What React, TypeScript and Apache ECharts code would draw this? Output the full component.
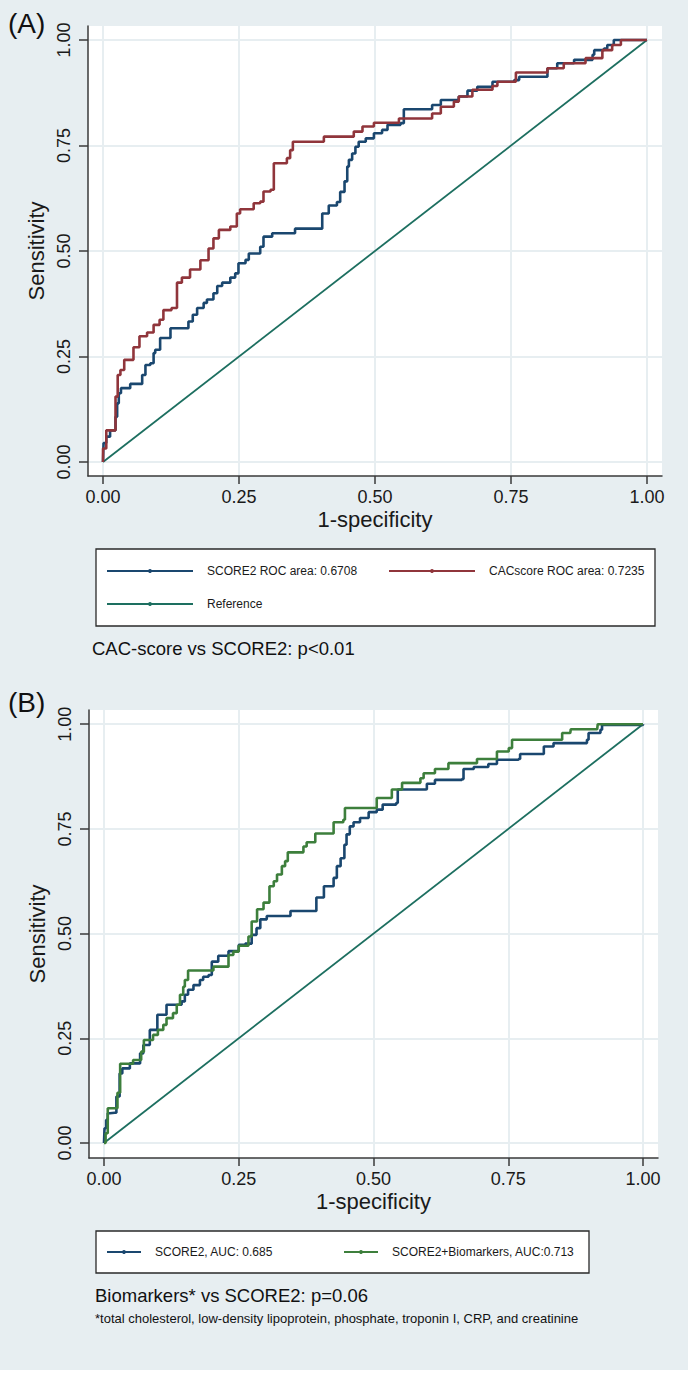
import React, { useEffect, useRef } from "react";
import * as echarts from "echarts";

// ---------- data ----------
const tickValues = [0, 0.25, 0.5, 0.75, 1];

// Panel A: SCORE2 ROC curve (1-specificity, sensitivity)
const scoreA: number[][] = [
  [0, 0], [0.001, 0.045], [0.006, 0.06], [0.013, 0.075], [0.018, 0.075], [0.023, 0.107], [0.026, 0.139],
  [0.029, 0.163], [0.033, 0.175], [0.047, 0.175], [0.05, 0.185], [0.066, 0.185], [0.072, 0.206], [0.078, 0.23],
  [0.087, 0.234], [0.093, 0.258], [0.096, 0.266], [0.105, 0.294], [0.117, 0.294], [0.124, 0.317], [0.154, 0.317],
  [0.157, 0.333], [0.165, 0.349], [0.173, 0.365], [0.185, 0.377], [0.191, 0.385], [0.203, 0.4], [0.21, 0.417],
  [0.219, 0.425], [0.234, 0.437], [0.243, 0.447], [0.249, 0.471], [0.262, 0.479], [0.268, 0.494], [0.283, 0.494],
  [0.289, 0.51], [0.295, 0.534], [0.311, 0.542], [0.344, 0.542], [0.353, 0.553], [0.403, 0.553], [0.403, 0.589],
  [0.415, 0.608], [0.43, 0.616], [0.436, 0.64], [0.444, 0.665], [0.449, 0.7], [0.452, 0.716], [0.458, 0.731],
  [0.464, 0.747], [0.47, 0.759], [0.483, 0.767], [0.498, 0.779], [0.513, 0.787], [0.523, 0.799], [0.547, 0.803],
  [0.553, 0.836], [0.602, 0.836], [0.605, 0.846], [0.621, 0.858], [0.645, 0.858], [0.654, 0.866], [0.67, 0.88],
  [0.688, 0.889], [0.716, 0.901], [0.756, 0.905], [0.765, 0.913], [0.811, 0.913], [0.817, 0.933], [0.835, 0.945],
  [0.866, 0.953], [0.9, 0.965], [0.903, 0.976], [0.921, 0.98], [0.927, 0.988], [0.939, 1], [1, 1],
];

// Panel A: CAC score ROC curve
const cacA: number[][] = [
  [0, 0], [0, 0.032], [0.006, 0.045], [0.006, 0.075], [0.015, 0.075], [0.023, 0.155], [0.027, 0.206],
  [0.032, 0.218], [0.039, 0.242], [0.05, 0.242], [0.056, 0.272], [0.067, 0.298], [0.081, 0.307], [0.093, 0.325],
  [0.104, 0.337], [0.111, 0.36], [0.126, 0.365], [0.136, 0.425], [0.145, 0.437], [0.16, 0.456], [0.179, 0.478],
  [0.194, 0.506], [0.203, 0.53], [0.213, 0.55], [0.234, 0.558], [0.246, 0.589], [0.252, 0.599], [0.271, 0.599],
  [0.277, 0.613], [0.289, 0.617], [0.295, 0.641], [0.308, 0.645], [0.314, 0.664], [0.314, 0.708], [0.338, 0.72],
  [0.344, 0.739], [0.349, 0.759], [0.406, 0.759], [0.406, 0.771], [0.461, 0.771], [0.461, 0.783], [0.477, 0.783],
  [0.477, 0.795], [0.498, 0.795], [0.498, 0.804], [0.544, 0.804], [0.544, 0.814], [0.602, 0.814], [0.605, 0.826],
  [0.621, 0.826], [0.621, 0.842], [0.645, 0.842], [0.645, 0.854], [0.654, 0.854], [0.654, 0.866], [0.67, 0.866],
  [0.679, 0.878], [0.679, 0.882], [0.716, 0.882], [0.716, 0.891], [0.725, 0.901], [0.756, 0.901], [0.759, 0.923],
  [0.817, 0.923], [0.817, 0.933], [0.847, 0.933], [0.847, 0.945], [0.887, 0.945], [0.887, 0.957], [0.915, 0.957],
  [0.918, 0.976], [0.936, 0.976], [0.936, 0.988], [0.952, 0.988], [0.952, 1], [1, 1],
];

// Panel B: SCORE2
const scoreB: number[][] = [
  [0, 0], [0.001, 0.035], [0.004, 0.055], [0.007, 0.071], [0.011, 0.072], [0.02, 0.072], [0.023, 0.111],
  [0.029, 0.166], [0.034, 0.178], [0.045, 0.178], [0.048, 0.19], [0.06, 0.19], [0.067, 0.214], [0.073, 0.234],
  [0.079, 0.234], [0.085, 0.27], [0.097, 0.27], [0.099, 0.306], [0.114, 0.306], [0.116, 0.33], [0.132, 0.33],
  [0.144, 0.338], [0.15, 0.354], [0.156, 0.366], [0.166, 0.377], [0.178, 0.389], [0.184, 0.397], [0.194, 0.401],
  [0.2, 0.433], [0.208, 0.433], [0.212, 0.447], [0.228, 0.447], [0.231, 0.458], [0.25, 0.473], [0.262, 0.476],
  [0.274, 0.497], [0.283, 0.513], [0.29, 0.534], [0.302, 0.542], [0.333, 0.542], [0.346, 0.554], [0.392, 0.554],
  [0.394, 0.586], [0.408, 0.613], [0.423, 0.613], [0.426, 0.633], [0.432, 0.661], [0.439, 0.68], [0.446, 0.712],
  [0.45, 0.737], [0.456, 0.756], [0.463, 0.766], [0.475, 0.776], [0.491, 0.79], [0.506, 0.796], [0.517, 0.808],
  [0.542, 0.812], [0.545, 0.844], [0.596, 0.845], [0.599, 0.858], [0.614, 0.867], [0.664, 0.869], [0.667, 0.893],
  [0.686, 0.898], [0.713, 0.905], [0.729, 0.915], [0.769, 0.917], [0.772, 0.929], [0.809, 0.929], [0.816, 0.947],
  [0.834, 0.955], [0.896, 0.963], [0.899, 0.979], [0.921, 0.987], [0.924, 0.998], [1, 1],
];

// Panel B: SCORE2 + Biomarkers
const bioB: number[][] = [
  [0, 0], [0.003, 0.023], [0.007, 0.063], [0.007, 0.083], [0.02, 0.083], [0.025, 0.12], [0.03, 0.189],
  [0.051, 0.189], [0.054, 0.198], [0.063, 0.198], [0.069, 0.218], [0.074, 0.246], [0.085, 0.246], [0.091, 0.258],
  [0.1, 0.27], [0.11, 0.282], [0.116, 0.298], [0.128, 0.31], [0.135, 0.33], [0.141, 0.354], [0.147, 0.373],
  [0.15, 0.389], [0.156, 0.412], [0.197, 0.412], [0.203, 0.421], [0.222, 0.421], [0.231, 0.449], [0.24, 0.457],
  [0.25, 0.471], [0.265, 0.471], [0.268, 0.493], [0.274, 0.529], [0.284, 0.558], [0.296, 0.574], [0.307, 0.613],
  [0.315, 0.625], [0.321, 0.641], [0.33, 0.661], [0.336, 0.673], [0.341, 0.694], [0.367, 0.694], [0.37, 0.708],
  [0.376, 0.718], [0.389, 0.718], [0.392, 0.739], [0.426, 0.739], [0.426, 0.766], [0.444, 0.772], [0.447, 0.8],
  [0.506, 0.8], [0.506, 0.824], [0.531, 0.824], [0.534, 0.844], [0.553, 0.848], [0.553, 0.86], [0.584, 0.86],
  [0.587, 0.871], [0.593, 0.883], [0.611, 0.883], [0.614, 0.893], [0.639, 0.895], [0.639, 0.907], [0.692, 0.907],
  [0.692, 0.917], [0.726, 0.917], [0.729, 0.935], [0.751, 0.943], [0.757, 0.963], [0.85, 0.963], [0.85, 0.979],
  [0.865, 0.979], [0.866, 0.988], [0.915, 0.988], [0.916, 1], [1, 1],
];

const referenceLine: number[][] = [[0, 0], [1, 1]];

const namesA = ["SCORE2 ROC area: 0.6708", "CACscore ROC area: 0.7235", "Reference"];
const namesB = ["SCORE2, AUC: 0.685", "SCORE2+Biomarkers, AUC:0.713"];

const FONT = "'Liberation Sans', Arial, Helvetica, sans-serif";
const BG = "#e7eef1";
const GRIDC = "#e7eef1";
const AXC = "#3a3a3a";
const NAVY = "#1a476f";
const MAROON = "#90353b";
const TEAL = "#1d6f60";
const GREEN = "#3d7f3c";

function xAxisFor(gridIndex: number, min: number, max: number) {
  return {
    type: "value",
    gridIndex,
    min,
    max,
    name: "1-specificity",
    nameLocation: "middle",
    nameGap: 32,
    nameTextStyle: { fontSize: 22, color: "#1a1a1a", fontFamily: FONT },
    axisLine: { show: true, onZero: false, lineStyle: { color: AXC, width: 1.5 } },
    axisTick: { show: true, length: 8, customValues: tickValues, lineStyle: { color: AXC, width: 1.5 } },
    axisLabel: {
      customValues: tickValues,
      formatter: (v: number) => v.toFixed(2),
      fontSize: 18,
      color: "#1a1a1a",
      fontFamily: FONT,
      margin: 12,
    },
    splitLine: { show: true, lineStyle: { color: GRIDC, width: 2 } },
  };
}

function yAxisFor(gridIndex: number, min: number, max: number) {
  return {
    type: "value",
    gridIndex,
    min,
    max,
    name: "Sensitivity",
    nameLocation: "middle",
    nameRotate: 90,
    nameGap: 35,
    nameTextStyle: { fontSize: 22, color: "#1a1a1a", fontFamily: FONT },
    axisLine: { show: true, onZero: false, lineStyle: { color: AXC, width: 1.5 } },
    axisTick: { show: true, length: 9, customValues: tickValues, lineStyle: { color: AXC, width: 1.5 } },
    axisLabel: {
      customValues: tickValues,
      formatter: (v: number) => v.toFixed(2),
      rotate: 90,
      fontSize: 18,
      color: "#1a1a1a",
      fontFamily: FONT,
      margin: 15,
    },
    splitLine: { show: true, lineStyle: { color: GRIDC, width: 2 } },
  };
}

function legendFor(name: string, left: number, top: number, itemWidth: number) {
  return {
    data: [name],
    left,
    top,
    orient: "horizontal",
    padding: 0,
    itemWidth,
    itemHeight: 5,
    selectedMode: false,
    textStyle: { fontSize: 12, color: "#1a1a1a", fontFamily: FONT, padding: [0, 0, 0, 9], lineHeight: 14 },
  };
}

function curve(name: string, idx: number, data: number[][], color: string, z: number) {
  return {
    name,
    type: "line",
    xAxisIndex: idx,
    yAxisIndex: idx,
    data,
    step: "end",
    symbol: "none",
    lineStyle: { color, width: 2.6 },
    itemStyle: { color },
    z,
  };
}

function refLine(name: string, idx: number) {
  return {
    name,
    type: "line",
    xAxisIndex: idx,
    yAxisIndex: idx,
    data: referenceLine,
    symbol: "none",
    lineStyle: { color: TEAL, width: 1.8 },
    itemStyle: { color: TEAL },
    z: 2,
  };
}

export default function App() {
  const ref = useRef<HTMLDivElement>(null);

  useEffect(() => {
    document.body.style.margin = "0";
    if (!ref.current) return;
    const chart = echarts.init(ref.current, null, { renderer: "svg" });

    const option = {
      animation: false,
      backgroundColor: BG,
      grid: [
        { left: 88, top: 26, width: 574, height: 450, show: true, backgroundColor: "#ffffff", borderWidth: 0 },
        { left: 89, top: 710, width: 569, height: 448, show: true, backgroundColor: "#ffffff", borderWidth: 0 },
      ],
      xAxis: [xAxisFor(0, -0.0276, 1.0276), xAxisFor(1, -0.0278, 1.0278)],
      yAxis: [yAxisFor(0, -0.0332, 1.0332), yAxisFor(1, -0.036, 1.034)],
      legend: [
        legendFor(namesA[0], 106, 564, 86),
        legendFor(namesA[1], 388, 564, 86),
        legendFor(namesA[2], 106, 597, 86),
        legendFor(namesB[0], 106, 1245, 34),
        legendFor(namesB[1], 343, 1245, 34),
      ],
      graphic: [
        { type: "rect", shape: { x: 96, y: 549, width: 559, height: 77 }, style: { fill: "#ffffff", stroke: "#2a2a2a", lineWidth: 1.3 }, z: 1 },
        { type: "rect", shape: { x: 96, y: 1231, width: 493, height: 42 }, style: { fill: "#ffffff", stroke: "#2a2a2a", lineWidth: 1.3 }, z: 1 },
        { type: "rect", shape: { x: 0, y: 1370, width: 688, height: 3 }, style: { fill: "#ffffff" }, z: 1 },
        { type: "text", x: 8, y: 23, style: { text: "(A)", fontSize: 28, fontFamily: FONT, fill: "#111", textVerticalAlign: "middle" } },
        { type: "text", x: 8, y: 702, style: { text: "(B)", fontSize: 28, fontFamily: FONT, fill: "#111", textVerticalAlign: "middle" } },
        { type: "text", x: 92, y: 648, style: { text: "CAC-score vs SCORE2: p<0.01", fontSize: 18.5, fontFamily: FONT, fill: "#111", textVerticalAlign: "middle" } },
        { type: "text", x: 95, y: 1295, style: { text: "Biomarkers* vs SCORE2: p=0.06", fontSize: 18.5, fontFamily: FONT, fill: "#111", textVerticalAlign: "middle" } },
        { type: "text", x: 95, y: 1318, style: { text: "*total cholesterol, low-density lipoprotein, phosphate, troponin I, CRP, and creatinine", fontSize: 13, fontFamily: FONT, fill: "#111", textVerticalAlign: "middle" } },
      ],
      series: [
        refLine(namesA[2], 0),
        curve(namesA[0], 0, scoreA, NAVY, 3),
        curve(namesA[1], 0, cacA, MAROON, 4),
        refLine("Reference line B", 1),
        curve(namesB[0], 1, scoreB, NAVY, 3),
        curve(namesB[1], 1, bioB, GREEN, 4),
      ],
    };

    chart.setOption(option as any);
    return () => {
      chart.dispose();
    };
  }, []);

  return <div ref={ref} style={{ width: 688, height: 1373 }} />;
}
